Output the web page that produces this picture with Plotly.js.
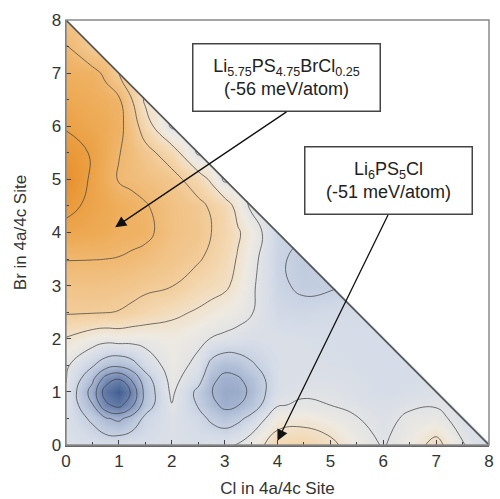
<!DOCTYPE html>
<html>
<head>
<meta charset="utf-8">
<script src="https://cdn.plot.ly/plotly-3.0.1.min.js"></script>
<style>
html,body{margin:0;padding:0;background:#fff;}
#chart{width:500px;height:499px;}
</style>
</head>
<body>
<div id="chart"></div>
<script>
// Grid of Cl (x) and Br (y) occupancies in the 4a/4c sites (finer near the blue wells)
const clSites = [0,0.5,0.75,1,1.25,1.5,2,2.5,2.75,3,3.25,3.5,4,4.5,5,5.5,6,6.5,7,7.5,8];
const brSites = [0,0.5,0.75,1,1.25,1.5,2,2.5,3,3.5,4,4.5,5,5.5,6,6.5,7,7.5,8];

// Relative energy (meV/atom), one row per Br value, listed for Cl values inside the triangle
const eBr0    = [-45.3,-44.8,-44.8,-45,-45,-44.8,-45.2,-44.8,-45.3,-45.5,-46.2,-47.5,-50.5,-51,-49.8,-47.3,-45.8,-47.5,-50,-46.2,-44];
const eBr0_5  = [-45,-42.5,-40.3,-39.4,-41.2,-43.6,-45.2,-44,-42.5,-41.5,-42.3,-43.8,-47.8,-48,-47.2,-46.1,-45.2,-46.5,-46.8,-45];
const eBr0_75 = [-45.5,-40.2,-34.7,-33,-36.5,-41.6,-45.9,-42.8,-40.9,-39.3,-39.9,-41.3,-45.8,-46.4,-46,-45.5,-44.8,-45.6,-45.8];
const eBr1    = [-45.8,-38.8,-32.5,-29.3,-34.8,-41,-46.5,-42.3,-40.1,-38.8,-39,-40.5,-45,-45.6,-45.6,-45,-44.5,-44.8,-45.3];
const eBr1_25 = [-46.1,-40.7,-35.8,-34.3,-37.6,-41.9,-46.9,-44.2,-40.6,-39.4,-39.7,-41,-44.8,-45.2,-45.2,-44.8,-44.5,-44.6];
const eBr1_5  = [-46.4,-43.3,-41.4,-40.7,-41.9,-44.2,-47.2,-45.3,-42.1,-40.8,-41.3,-42.6,-44.8,-45,-44.8,-44.6,-44.5,-44.5];
const eBr2    = [-48.8,-47.3,-46.9,-47.2,-47,-47,-47.6,-46.6,-45.9,-45.5,-45.2,-44.8,-45,-44.8,-44.6,-44.5,-44.5];
const eBr2_5  = [-52.3,-52.2,-52.1,-51.9,-51.4,-50.8,-49.6,-48.7,-48.1,-47.5,-46.9,-46.2,-44,-43.8,-44.2,-44.3];
const eBr3    = [-53.5,-53.6,-53.5,-53.3,-53,-52.6,-52.1,-50.5,-50,-49.5,-48.2,-46.5,-43.5,-42.5,-42.7];
const eBr3_5  = [-55.1,-55.05,-55,-54.9,-54.6,-54.2,-53.2,-52.3,-51.3,-50.2,-48.8,-47,-43.4,-42.3];
const eBr4    = [-57.2,-56.8,-56.5,-56,-55.8,-55.6,-53.8,-53,-52,-50.8,-49.3,-47.8,-43.5];
const eBr4_5  = [-58.7,-57.4,-56.9,-56.3,-55.8,-55.2,-53.8,-52.7,-51.6,-50.5,-48,-45.5];
const eBr5    = [-60,-57.6,-56.3,-54.8,-54.4,-54,-53,-50.5,-48.5,-45.5];
const eBr5_5  = [-59,-57.8,-56.5,-55.1,-54.2,-53,-50.5,-45.5];
const eBr6    = [-57.8,-57,-56.5,-55.8,-53.5,-50.5,-45.5];
const eBr6_5  = [-57,-56.3,-56,-55.4,-52,-48.5];
const eBr7    = [-56,-55.8,-54.5,-52];
const eBr7_5  = [-55.1,-52.5];
const eBr8    = [-53.5];

// Labelled compositions: arrow tips [Cl, Br] and label box anchors [Cl, Br]
const labelTexts = ['Li<sub>5.75</sub>PS<sub>4.75</sub>BrCl<sub>0.25</sub><br>(-56 meV/atom)',
                    'Li<sub>6</sub>PS<sub>5</sub>Cl<br>(-51 meV/atom)'];
const labelCl = [0.93, 4.0];
const labelBr = [4.1, 0.08];
const boxCl = [4.17, 6.09];
const boxBr = [6.27, 4.33];

const rows = [eBr0,eBr0_5,eBr0_75,eBr1,eBr1_25,eBr1_5,eBr2,eBr2_5,eBr3,eBr3_5,eBr4,eBr4_5,eBr5,eBr5_5,eBr6,eBr6_5,eBr7,eBr7_5,eBr8];
const z = rows.map(r => { const o = r.slice(); while (o.length < clSites.length) o.push(null); return o; });

const colorscale = [
  [0.00,'rgb(228,135,35)'],
  [0.078,'rgb(234,155,60)'],
  [0.14,'rgb(238,172,88)'],
  [0.234,'rgb(241,195,135)'],
  [0.33,'rgb(243,216,178)'],
  [0.42,'rgb(238,234,226)'],
  [0.52,'rgb(213,220,232)'],
  [0.61,'rgb(183,196,218)'],
  [0.70,'rgb(150,167,200)'],
  [0.82,'rgb(110,132,175)'],
  [1.00,'rgb(64,92,143)']
];

const trace = {
  type: 'contour',
  x: clSites, y: brSites, z: z,
  zmin: -61, zmax: -29,
  colorscale: colorscale,
  showscale: false,
  connectgaps: true,
  contours: {start: -58, end: -34, size: 3, coloring: 'heatmap', showlines: true},
  line: {color: 'rgba(60,60,60,0.7)', width: 1, smoothing: 1.3},
  hoverinfo: 'skip'
};

const font = 'Liberation Sans, Arial, sans-serif';
const axisCommon = {
  range: [0, 8], dtick: 1, ticks: 'inside', ticklen: 5, tickwidth: 1, tickcolor: '#444',
  minor: {dtick: 0.5, ticks: 'inside', ticklen: 3, tickcolor: '#444'},
  showline: true, linecolor: '#666', linewidth: 1.5, showgrid: false, zeroline: false,
  tickfont: {family: font, size: 17, color: '#333'}
};

const annotations = labelTexts.map((t, i) => ({
  xref: 'x', yref: 'y', x: labelCl[i], y: labelBr[i],
  axref: 'x', ayref: 'y', ax: boxCl[i], ay: boxBr[i],
  xanchor: 'center', yanchor: 'bottom',
  text: t, showarrow: true, arrowhead: 2, arrowsize: 1.7, arrowwidth: 1.3, arrowcolor: '#111',
  font: {family: font, size: 18, color: '#222'},
  bgcolor: '#fff', bordercolor: '#444', borderwidth: 1.5, borderpad: 3,
  width: i === 0 ? 180 : 160, height: 60
}));

const layout = {
  width: 500, height: 499,
  margin: {l: 66, r: 11, t: 20, b: 54},
  paper_bgcolor: '#fff', plot_bgcolor: '#fff',
  font: {family: font, color: '#333'},
  xaxis: Object.assign({}, axisCommon, {title: {text: 'Cl in 4a/4c Site', font: {family: font, size: 17, color: '#333'}, standoff: 12}}),
  yaxis: Object.assign({}, axisCommon, {title: {text: 'Br in 4a/4c Site', font: {family: font, size: 17, color: '#333'}, standoff: 20}}),
  shapes: [
    {type: 'path', xref: 'x', yref: 'y', path: 'M 0 8 L 8.05 8 L 8.05 0 Z', fillcolor: '#fff', line: {width: 0}, layer: 'above'},
    {type: 'line', xref: 'x', yref: 'y', x0: 0, y0: 8, x1: 8, y1: 0, line: {color: '#555', width: 1.6}, layer: 'above'},
    {type: 'rect', xref: 'paper', yref: 'paper', x0: 0, y0: 0, x1: 1, y1: 1, line: {color: '#8a8a8a', width: 1.5}, layer: 'above'}
  ],
  annotations: annotations,
  showlegend: false
};

Plotly.newPlot('chart', [trace], layout, {staticPlot: true, displayModeBar: false});
</script>
</body>
</html>
